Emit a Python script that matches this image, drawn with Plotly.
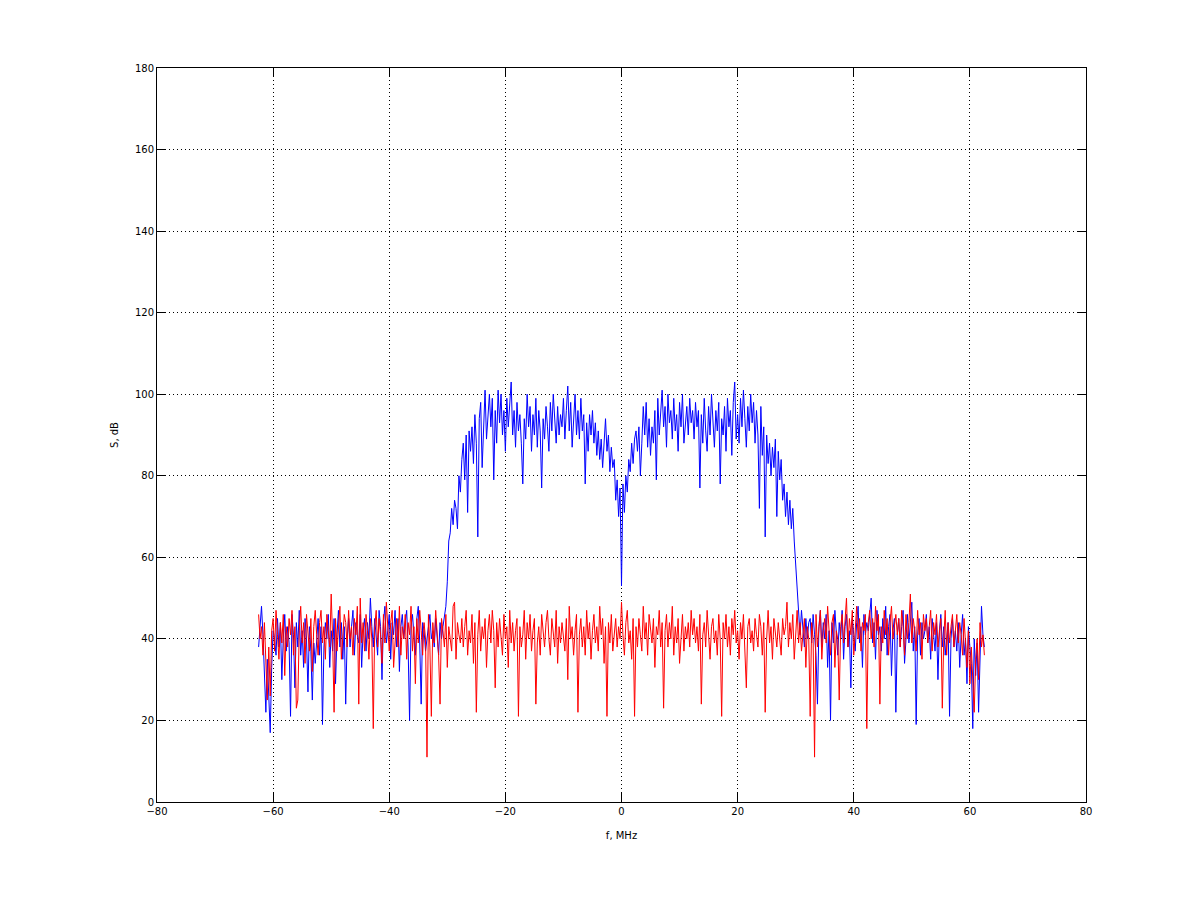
import numpy as np
import plotly.graph_objects as go

# frequency grid, MHz (0.25 MHz step, -62.5 .. 62.5)
f_start = -62.5
f_step = 0.25

# blue trace: received spectrum, dB (one row = 5 MHz)
s_blue = [
    38, 44, 48, 41, 30, 22, 35, 25, 17, 33, 42, 40, 36, 45, 38, 44, 30, 40, 46, 37,
    43, 39, 21, 46, 41, 28, 44, 38, 47, 36, 42, 33, 45, 40, 27, 43, 37, 25, 39, 34,
    41, 45, 36, 43, 19, 38, 44, 40, 46, 33, 42, 37, 45, 29, 41, 47, 38, 44, 35, 43,
    24, 40, 45, 38, 43, 47, 36, 44, 41, 39, 46, 33, 42, 45, 37, 44, 40, 50, 43, 38,
    45, 41, 36, 47, 43, 30, 44, 48, 39, 42, 46, 35, 44, 41, 47, 38, 45, 32, 43, 46,
    40, 44, 47, 38, 20, 43, 46, 41, 36, 45, 48, 39, 24, 44, 42, 37, 41, 43, 46, 40,
    42, 38, 45, 41, 36, 44, 40, 43, 46, 48, 54, 64, 66, 72, 68, 74, 72, 67, 80, 76,
    84, 88, 79, 90, 71, 91, 86, 92, 83, 95, 88, 65, 94, 98, 82, 93, 101, 89, 96, 100,
    92, 99, 79, 96, 88, 101, 93, 100, 90, 96, 86, 99, 92, 97, 103, 90, 96, 87, 98, 91,
    95, 88, 78, 94, 89, 100, 92, 97, 86, 95, 90, 99, 87, 96, 91, 77, 94, 89, 97, 92,
    86, 98, 91, 100, 93, 88, 97, 90, 95, 92, 99, 89, 96, 102, 91, 98, 87, 94, 100, 90,
    96, 89, 99, 91, 95, 78, 93, 86, 95, 90, 96, 88, 93, 85, 91, 84, 89, 82, 88, 94,
    86, 90, 81, 87, 82, 84, 74, 79, 70, 77, 53, 78, 71, 80, 76, 84, 81, 88, 83, 89,
    91, 86, 92, 80, 88, 97, 90, 98, 87, 94, 85, 92, 88, 96, 79, 99, 90, 95, 101, 92,
    97, 87, 100, 93, 96, 89, 99, 91, 95, 86, 98, 92, 100, 88, 94, 97, 90, 99, 93, 96,
    89, 98, 92, 96, 77, 95, 88, 99, 91, 86, 97, 90, 100, 93, 87, 96, 91, 98, 78, 94,
    90, 97, 86, 99, 92, 96, 85, 98, 103, 89, 95, 88, 99, 92, 101, 94, 87, 97, 91, 100,
    93, 98, 88, 96, 90, 72, 97, 85, 92, 65, 90, 83, 88, 80, 87, 82, 89, 70, 86, 79,
    84, 74, 78, 70, 76, 68, 74, 67, 72, 64, 58, 50, 45, 41, 47, 43, 38, 45, 40, 44,
    45, 39, 46, 41, 36, 24, 43, 47, 38, 44, 40, 46, 33, 42, 20, 44, 39, 47, 41, 36,
    44, 40, 47, 35, 43, 46, 38, 42, 28, 45, 41, 37, 44, 48, 39, 43, 33, 46, 41, 44,
    42, 46, 50, 39, 44, 35, 47, 41, 43, 37, 45, 40, 48, 36, 43, 46, 31, 42, 45, 22,
    41, 45, 38, 43, 47, 34, 42, 46, 39, 44, 49, 37, 43, 19, 41, 45, 36, 44, 40, 42,
    46, 39, 43, 35, 45, 41, 37, 44, 30, 42, 46, 38, 43, 36, 41, 44, 21, 40, 45, 38,
    42, 37, 44, 33, 41, 46, 36, 40, 29, 43, 38, 34, 18, 40, 31, 39, 22, 35, 48, 41,
    38,
]

# red trace: noise spectrum, dB (one row = 5 MHz)
s_red = [
    46, 40, 43, 36, 44, 33, 25, 38, 26, 42, 45, 37, 47, 41, 35, 44, 39, 46, 31, 43,
    38, 45, 41, 47, 36, 43, 23, 25, 42, 48, 39, 44, 34, 46, 40, 37, 45, 32, 43, 47,
    41, 36, 44, 47, 39, 43, 35, 46, 42, 38, 51, 40, 22, 45, 37, 43, 48, 35, 41, 46,
    44, 38, 47, 40, 43, 36, 45, 41, 48, 24, 50, 39, 44, 37, 46, 42, 35, 45, 40, 18,
    43, 47, 38, 45, 41, 34, 46, 39, 49, 42, 37, 44, 47, 33, 41, 45, 38, 48, 36, 43,
    40, 46, 35, 44, 41, 48, 37, 43, 29, 45, 39, 47, 42, 36, 44, 40, 11, 46, 38, 21,
    44, 39, 47, 41, 36, 24, 45, 42, 38, 46, 33, 43, 40, 37, 48, 49, 35, 44, 41, 39,
    45, 38, 43, 47, 36, 42, 39, 46, 34, 44, 22, 41, 47, 37, 43, 40, 45, 33, 42, 46,
    39, 47, 42, 28, 44, 38, 45, 41, 36, 46, 40, 43, 33, 47, 39, 44, 37, 42, 45, 21,
    43, 38, 41, 47, 35, 44, 40, 46, 37, 42, 45, 24, 39, 43, 36, 46, 41, 38, 44, 47,
    40, 36, 45, 42, 38, 47, 34, 43, 39, 44, 41, 37, 45, 30, 48, 40, 43, 36, 42, 46,
    22, 41, 45, 38, 43, 36, 47, 40, 44, 35, 42, 46, 39, 43, 37, 48, 41, 45, 34, 43,
    21, 44, 39, 46, 37, 42, 45, 38, 43, 40, 49, 41, 36, 44, 47, 39, 42, 35, 45, 21,
    43, 38, 45, 41, 37, 48, 40, 44, 36, 46, 42, 39, 45, 33, 43, 41, 47, 38, 44, 23,
    42, 46, 38, 44, 40, 48, 36, 43, 39, 45, 34, 42, 46, 37, 43, 40, 44, 38, 47, 41,
    45, 39, 43, 37, 46, 24, 41, 44, 38, 47, 40, 35, 43, 45, 39, 42, 36, 46, 40, 21,
    44, 40, 46, 38, 43, 36, 45, 41, 47, 39, 42, 35, 44, 40, 46, 37, 28, 43, 45, 39,
    42, 37, 45, 41, 38, 46, 43, 36, 44, 22, 40, 47, 39, 43, 35, 45, 41, 38, 44, 40,
    36, 45, 41, 43, 49, 38, 44, 40, 46, 35, 42, 47, 39, 44, 37, 41, 45, 33, 43, 40,
    21, 44, 40, 11, 46, 38, 43, 47, 35, 42, 45, 39, 48, 41, 36, 44, 46, 33, 42, 40,
    25, 43, 46, 39, 44, 50, 38, 45, 41, 47, 36, 43, 48, 40, 45, 37, 44, 42, 46, 18,
    44, 47, 40, 45, 38, 48, 42, 46, 24, 43, 39, 47, 41, 45, 36, 44, 48, 40, 43, 46,
    41, 45, 38, 47, 43, 36, 46, 40, 44, 51, 39, 45, 42, 37, 47, 41, 44, 35, 46, 42,
    45, 39, 43, 47, 37, 44, 41, 46, 38, 42, 45, 23, 40, 47, 36, 44, 39, 43, 46, 38,
    43, 46, 39, 44, 41, 36, 45, 40, 33, 42, 29, 38, 31, 22, 35, 40, 30, 44, 38, 41,
    36,
]

freq = f_start + f_step * np.arange(len(s_blue))

x_ticks = [-80, -60, -40, -20, 0, 20, 40, 60, 80]
y_ticks = [0, 20, 40, 60, 80, 100, 120, 140, 160, 180]

fig = go.Figure()
fig.add_trace(go.Scatter(x=freq, y=s_blue, mode="lines",
                         line=dict(color="#0000ff", width=1), showlegend=False))
fig.add_trace(go.Scatter(x=freq, y=s_red, mode="lines",
                         line=dict(color="#ff0000", width=1), showlegend=False))

axis_style = dict(
    showline=True, linecolor="black", linewidth=1, mirror="allticks",
    ticks="inside", ticklen=9, tickcolor="black", tickwidth=1,
    showgrid=True, gridcolor="black", gridwidth=1, griddash="1px,3px",
    zeroline=False,
    tickfont=dict(family="DejaVu Sans", size=10, color="black"),
)

fig.update_xaxes(range=[-80, 80], tickvals=x_ticks,
                 title=dict(text="f, MHz", standoff=15,
                            font=dict(family="DejaVu Sans", size=10, color="black")),
                 **axis_style)
fig.update_yaxes(range=[0, 180], tickvals=y_ticks,
                 title=dict(text="S, dB", standoff=14,
                            font=dict(family="DejaVu Sans", size=10, color="black")),
                 **axis_style)

# page body adds ~8px offset, so margins are shifted to land the box where it sits in the original
fig.update_layout(
    width=1200, height=901,
    margin=dict(l=149, r=122, t=60, b=107),
    plot_bgcolor="white", paper_bgcolor="white",
    font=dict(family="DejaVu Sans", size=10, color="black"),
)

fig.write_html("out.html")
